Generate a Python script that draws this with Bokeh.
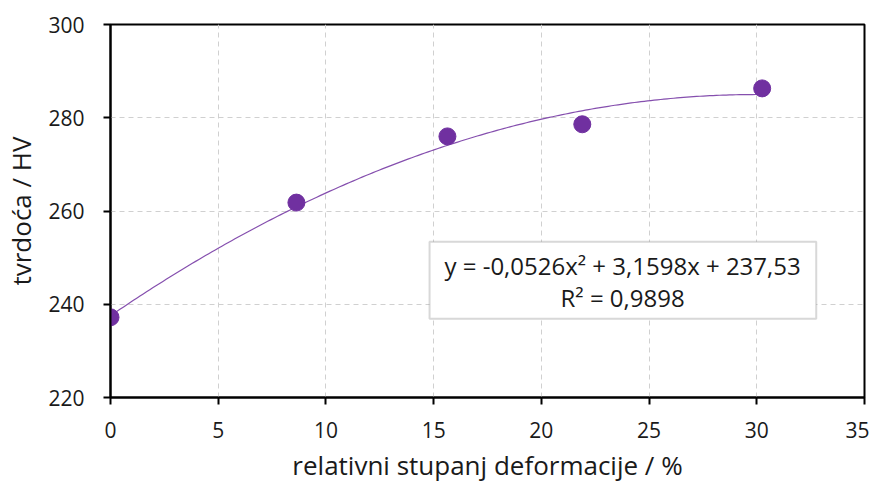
import numpy as np
from bokeh.plotting import figure
from bokeh.models import Range1d, FixedTicker, BoxAnnotation, Label
from bokeh.embed import file_html
from bokeh.resources import INLINE

# data
deformation = [0.0, 8.63, 15.64, 21.9, 30.25]
hardness = [237.2, 261.8, 276.0, 278.6, 286.3]
# trendline coefficients as shown on the chart
coef = [-0.0526, 3.1598, 237.53]
eq_text = "y = -0,0526x\u00b2 + 3,1598x + 237,53"
r2_text = "R\u00b2 = 0,9898"
x_ticks = [0, 5, 10, 15, 20, 25, 30, 35]
y_ticks = [220, 240, 260, 280, 300]

FONT = "Open Sans"
PURPLE = "#7030A0"

p = figure(frame_width=754, frame_height=373, output_backend="svg", toolbar_location=None,
           x_range=Range1d(0, 35), y_range=Range1d(220, 300),
           min_border_left=106, min_border_right=5, min_border_top=24, min_border_bottom=70)
p.outline_line_color = "black"
p.outline_line_width = 2
p.background_fill_color = "white"
p.border_fill_color = "white"

for ax in (p.xaxis[0], p.yaxis[0]):
    ax.axis_line_color = "black"
    ax.axis_line_width = 2
    ax.major_tick_line_color = "black"
    ax.major_tick_line_width = 2
    ax.major_tick_out = 7
    ax.major_tick_in = 0
    ax.minor_tick_line_color = None
    ax.major_label_text_font = FONT
    ax.major_label_text_font_size = "21px"
    ax.major_label_text_color = "#1a1a1a"
    ax.axis_label_text_font = FONT
    ax.axis_label_text_font_size = "26px"
    ax.axis_label_text_font_style = "normal"
    ax.axis_label_text_color = "#1a1a1a"

p.xaxis.ticker = FixedTicker(ticks=x_ticks)
p.yaxis.ticker = FixedTicker(ticks=y_ticks)
p.xaxis.axis_label = "relativni stupanj deformacije / %"
p.yaxis.axis_label = "tvrdoća / HV"
p.xaxis.major_label_standoff = 17
p.yaxis.major_label_standoff = 19
p.xaxis.axis_label_standoff = 6
p.yaxis.axis_label_standoff = 6

p.grid.grid_line_color = "#d0d0d0"
p.grid.grid_line_dash = "5 4"
p.grid.grid_line_width = 1
p.xgrid.ticker = FixedTicker(ticks=x_ticks)
p.ygrid.ticker = FixedTicker(ticks=y_ticks)

# trendline
xs = np.linspace(min(deformation), max(deformation), 200)
ys = np.polyval(coef, xs)
p.line(xs, ys, line_color=PURPLE, line_width=1.2, alpha=0.85)

p.scatter(deformation, hardness, size=17, fill_color=PURPLE, line_color=PURPLE)

# equation box
p.add_layout(BoxAnnotation(left=14.81, right=32.76, bottom=236.9, top=253.4,
                           fill_color="white", fill_alpha=1.0,
                           line_color="#7f7f7f", line_width=2))
p.add_layout(Label(x=23.77, y=248.4, text=eq_text, text_align="center", text_baseline="middle",
                   text_font=FONT, text_font_size="24px", text_color="#1a1a1a"))
p.add_layout(Label(x=23.77, y=241.4, text=r2_text, text_align="center", text_baseline="middle",
                   text_font=FONT, text_font_size="24px", text_color="#1a1a1a"))

open("out.html", "w").write(file_html(p, INLINE))
